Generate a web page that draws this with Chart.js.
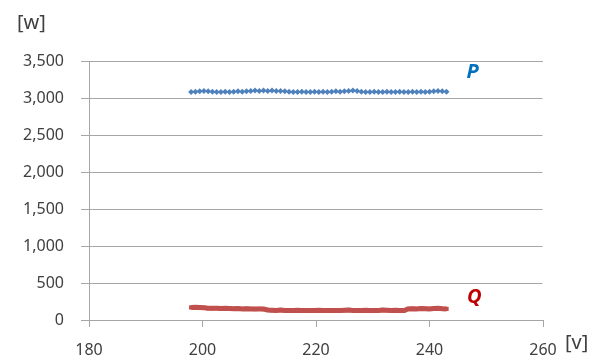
<!DOCTYPE html>
<html>
<head>
  <meta charset="utf-8">
  <title>P / Q</title>
  <script src="https://cdn.jsdelivr.net/npm/chart.js@4.4.1/dist/chart.umd.min.js"></script>
  <style>
    html, body { margin: 0; padding: 0; background: #fff; }
    #wrap { width: 602px; height: 360px; }
  </style>
</head>
<body>
  <div id="wrap"><canvas id="pq-chart" width="602" height="360"></canvas></div>

  <script>
    // voltage [v]
    var volts = [198, 198.75, 199.5, 200.25, 201, 201.75, 202.5, 203.25, 204, 204.75,
                 205.5, 206.25, 207, 207.75, 208.5, 209.25, 210, 210.75, 211.5, 212.25,
                 213, 213.75, 214.5, 215.25, 216, 216.75, 217.5, 218.25, 219, 219.75,
                 220.5, 221.25, 222, 222.75, 223.5, 224.25, 225, 225.75, 226.5, 227.25,
                 228, 228.75, 229.5, 230.25, 231, 231.75, 232.5, 233.25, 234, 234.75,
                 235.5, 236.25, 237, 237.75, 238.5, 239.25, 240, 240.75, 241.5, 242.25, 243];

    // active power P [w]
    var pValues = [3080, 3085, 3090, 3095, 3090, 3085, 3080, 3080, 3085, 3080,
                   3085, 3090, 3085, 3090, 3095, 3100, 3095, 3100, 3095, 3100,
                   3095, 3095, 3090, 3085, 3080, 3080, 3085, 3080, 3080, 3085,
                   3080, 3085, 3080, 3085, 3090, 3085, 3090, 3095, 3100, 3095,
                   3085, 3080, 3080, 3085, 3080, 3080, 3085, 3080, 3080, 3085,
                   3080, 3080, 3085, 3080, 3085, 3080, 3085, 3090, 3095, 3090, 3085];

    // reactive power Q
    var qValues = [170, 172, 168, 165, 160, 158, 160, 155, 158, 155,
                   152, 155, 150, 152, 150, 148, 150, 148, 135, 132,
                   130, 135, 130, 128, 130, 132, 128, 130, 128, 130,
                   132, 130, 128, 130, 128, 130, 132, 135, 130, 128,
                   130, 132, 130, 128, 130, 135, 132, 130, 132, 130,
                   128, 150, 152, 150, 155, 152, 150, 155, 158, 152, 150];

    var xTicks = [180, 200, 220, 240, 260];
    var yMax = 3500, yStep = 500;

    function pts(ys) {
        return volts.map(function (v, i) { return { x: v, y: ys[i] }; });
    }

    var fontFam = "'Noto Sans', 'Open Sans', sans-serif";
    var gridCol = '#a6a6a6';
    var textCol = '#404040';

    // axis units and series names
    var labelsPlugin = {
        id: 'pqLabels',
        afterDraw: function (chart) {
            var c = chart.ctx, xs = chart.scales.x, ys = chart.scales.y, a = chart.chartArea;
            c.save();
            // no frame on the right side of the plot, only gridlines
            c.fillStyle = '#fff';
            c.fillRect(a.right - 0.5, a.top + 1, 2, a.bottom - a.top - 2);

            c.fillStyle = textCol;
            c.font = '20px ' + fontFam;
            c.textBaseline = 'middle';
            c.textAlign = 'left';
            c.fillText('[w]', 17, 23);
            c.fillText('[v]', 565, 343);

            c.font = 'italic bold 20px ' + fontFam;
            c.textAlign = 'center';
            c.fillStyle = '#0070c0';
            c.fillText('P', xs.getPixelForValue(247.6), ys.getPixelForValue(3345));
            c.fillStyle = '#c00000';
            c.fillText('Q', xs.getPixelForValue(247.9), ys.getPixelForValue(310));
            c.restore();
        }
    };

    var config = {
        type: 'scatter',
        data: {
            datasets: [
                {
                    label: 'P',
                    data: pts(pValues),
                    showLine: true,
                    borderColor: '#4f81bd',
                    borderWidth: 1,
                    backgroundColor: '#4f81bd',
                    pointStyle: 'rectRot',
                    pointRadius: 3,
                    pointBorderWidth: 0
                },
                {
                    label: 'Q',
                    data: pts(qValues),
                    showLine: true,
                    borderColor: '#c0504d',
                    borderWidth: 5,
                    backgroundColor: '#c0504d',
                    pointStyle: 'rect',
                    pointRadius: 3,
                    pointBorderWidth: 0
                }
            ]
        },
        options: {
            responsive: false,
            animation: false,
            layout: { padding: { top: 61, right: 59, left: 0, bottom: 0 } },
            plugins: {
                legend: { display: false },
                tooltip: { enabled: false }
            },
            scales: {
                x: {
                    type: 'linear',
                    min: xTicks[0],
                    max: xTicks[xTicks.length - 1],
                    afterBuildTicks: function (s) {
                        s.ticks = xTicks.map(function (v) { return { value: v }; });
                    },
                    afterFit: function (s) { s.height = 40; },
                    grid: {
                        drawOnChartArea: false,
                        drawTicks: true,
                        tickLength: 7,
                        color: gridCol,
                        tickColor: gridCol
                    },
                    border: { display: true, color: gridCol, width: 1 },
                    ticks: {
                        padding: 14,
                        color: textCol,
                        font: { family: fontFam, size: 16 },
                        maxRotation: 0
                    }
                },
                y: {
                    min: 0,
                    max: yMax,
                    afterFit: function (s) { s.width = 89; },
                    grid: {
                        drawOnChartArea: true,
                        drawTicks: true,
                        tickLength: 8,
                        color: gridCol,
                        tickColor: gridCol
                    },
                    border: { display: true, color: gridCol, width: 1 },
                    ticks: {
                        stepSize: yStep,
                        padding: 17,
                        color: textCol,
                        font: { family: fontFam, size: 16 },
                        callback: function (v) { return v.toLocaleString('en-US'); }
                    }
                }
            }
        },
        plugins: [labelsPlugin]
    };

    var chart = new Chart(document.getElementById('pq-chart').getContext('2d'), config);
  </script>
</body>
</html>
